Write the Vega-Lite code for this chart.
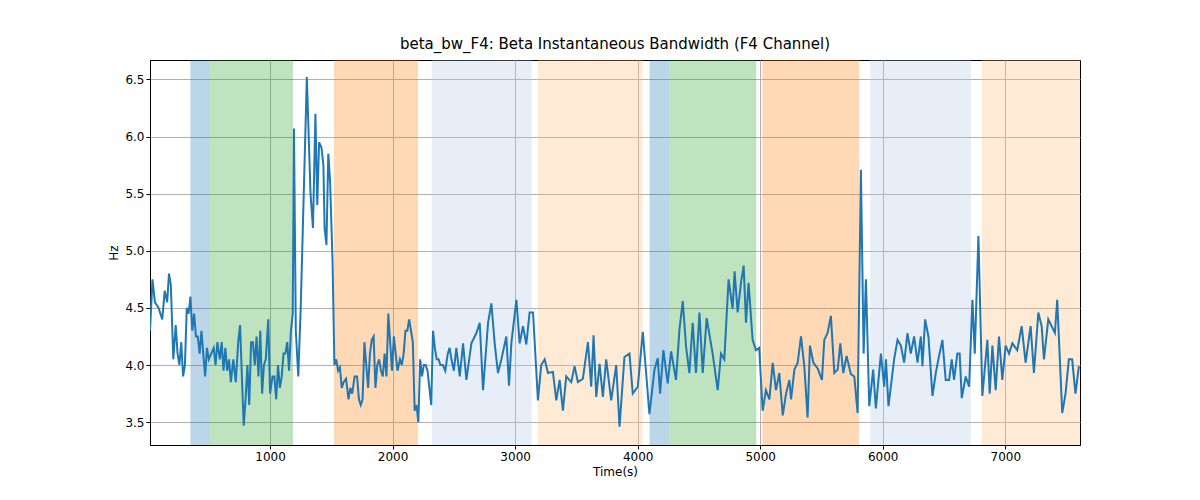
{
  "$schema": "https://vega.github.io/schema/vega-lite/v6.json",
  "width": 930,
  "height": 385,
  "autosize": {"type": "none"},
  "padding": {"left": 150, "top": 60, "right": 120, "bottom": 55},
  "background": "white",
  "config": {
    "font": "DejaVu Sans",
    "view": {"stroke": "black", "strokeWidth": 1},
    "axis": {"grid": true, "gridColor": "#b0b0b0", "gridWidth": 1, "zindex": 1, "domainColor": "black", "tickColor": "black", "labelColor": "black", "titleColor": "black", "labelFontSize": 12, "titleFontSize": 12, "titleFontWeight": "normal", "tickSize": 4}
  },
  "title": {"text": "beta_bw_F4: Beta Instantaneous Bandwidth (F4 Channel)", "fontSize": 15, "fontWeight": "normal", "offset": 8},
  "datasets": {
    "bands": [
      {"s": 350, "e": 510, "c": "#1f77b4"},
      {"s": 510, "e": 1187, "c": "#2ca02c"},
      {"s": 1522, "e": 2207, "c": "#ff7f0e"},
      {"s": 2320, "e": 3135, "c": "#aec7e8"},
      {"s": 3185, "e": 4040, "c": "#ffbb78"},
      {"s": 4097, "e": 4260, "c": "#1f77b4"},
      {"s": 4260, "e": 4968, "c": "#2ca02c"},
      {"s": 5017, "e": 5808, "c": "#ff7f0e"},
      {"s": 5898, "e": 6720, "c": "#aec7e8"},
      {"s": 6810, "e": 7620, "c": "#ffbb78"}
    ],
    "series": [
      {"t":20,"v":4.3},{"t":40,"v":4.75},{"t":60,"v":4.55},{"t":90,"v":4.5},{"t":120,"v":4.4},{"t":140,"v":4.65},{"t":160,"v":4.55},{"t":175,"v":4.8},{"t":190,"v":4.7},{"t":210,"v":4.05},{"t":230,"v":4.35},{"t":245,"v":4.1},{"t":260,"v":4.0},{"t":275,"v":4.2},{"t":290,"v":3.9},{"t":305,"v":4.0},{"t":320,"v":4.5},{"t":335,"v":4.45},{"t":350,"v":4.6},{"t":365,"v":4.3},{"t":380,"v":4.45},{"t":395,"v":4.25},{"t":410,"v":4.25},{"t":425,"v":4.1},{"t":440,"v":4.3},{"t":455,"v":4.1},{"t":470,"v":3.9},{"t":485,"v":4.15},{"t":500,"v":4.05},{"t":520,"v":4.1},{"t":540,"v":4.15},{"t":555,"v":4.0},{"t":570,"v":4.2},{"t":590,"v":4.05},{"t":605,"v":4.2},{"t":620,"v":3.95},{"t":635,"v":4.15},{"t":650,"v":3.95},{"t":665,"v":4.05},{"t":680,"v":3.85},{"t":700,"v":4.05},{"t":720,"v":3.85},{"t":740,"v":4.2},{"t":755,"v":4.35},{"t":770,"v":3.9},{"t":785,"v":3.47},{"t":800,"v":3.7},{"t":815,"v":4.0},{"t":830,"v":3.65},{"t":845,"v":4.2},{"t":860,"v":4.2},{"t":875,"v":4.0},{"t":890,"v":4.25},{"t":905,"v":3.9},{"t":920,"v":4.3},{"t":935,"v":3.75},{"t":950,"v":4.0},{"t":965,"v":4.05},{"t":985,"v":4.4},{"t":1000,"v":3.75},{"t":1020,"v":3.9},{"t":1035,"v":3.9},{"t":1050,"v":3.7},{"t":1065,"v":4.0},{"t":1080,"v":3.8},{"t":1095,"v":3.9},{"t":1110,"v":4.1},{"t":1125,"v":4.1},{"t":1140,"v":4.2},{"t":1155,"v":3.95},{"t":1170,"v":4.3},{"t":1185,"v":4.45},{"t":1195,"v":6.07},{"t":1210,"v":4.3},{"t":1230,"v":3.9},{"t":1250,"v":4.5},{"t":1300,"v":6.52},{"t":1330,"v":5.5},{"t":1350,"v":5.2},{"t":1370,"v":6.2},{"t":1385,"v":5.4},{"t":1400,"v":5.95},{"t":1420,"v":5.9},{"t":1435,"v":5.75},{"t":1445,"v":5.2},{"t":1460,"v":5.05},{"t":1475,"v":5.85},{"t":1490,"v":5.6},{"t":1510,"v":4.9},{"t":1525,"v":4.0},{"t":1540,"v":4.05},{"t":1555,"v":3.95},{"t":1570,"v":3.98},{"t":1585,"v":3.8},{"t":1600,"v":3.85},{"t":1620,"v":3.88},{"t":1640,"v":3.7},{"t":1655,"v":3.8},{"t":1670,"v":3.75},{"t":1690,"v":3.9},{"t":1710,"v":3.9},{"t":1725,"v":3.7},{"t":1740,"v":3.65},{"t":1755,"v":3.7},{"t":1770,"v":4.2},{"t":1785,"v":4.0},{"t":1800,"v":3.8},{"t":1815,"v":4.1},{"t":1830,"v":4.22},{"t":1845,"v":4.25},{"t":1860,"v":3.8},{"t":1875,"v":4.0},{"t":1890,"v":4.05},{"t":1905,"v":3.95},{"t":1920,"v":3.9},{"t":1935,"v":4.1},{"t":1950,"v":3.9},{"t":1965,"v":4.45},{"t":1980,"v":4.2},{"t":1995,"v":3.95},{"t":2010,"v":4.25},{"t":2025,"v":4.1},{"t":2040,"v":3.95},{"t":2060,"v":4.05},{"t":2075,"v":4.0},{"t":2090,"v":4.1},{"t":2105,"v":4.3},{"t":2120,"v":4.3},{"t":2135,"v":4.4},{"t":2150,"v":4.3},{"t":2165,"v":4.2},{"t":2180,"v":3.6},{"t":2195,"v":3.65},{"t":2210,"v":3.5},{"t":2225,"v":4.05},{"t":2240,"v":3.9},{"t":2255,"v":4.0},{"t":2270,"v":4.0},{"t":2285,"v":3.95},{"t":2300,"v":3.8},{"t":2315,"v":3.65},{"t":2330,"v":4.3},{"t":2345,"v":4.15},{"t":2360,"v":4.05},{"t":2375,"v":4.05},{"t":2390,"v":4.0},{"t":2410,"v":4.0},{"t":2430,"v":3.95},{"t":2450,"v":4.1},{"t":2465,"v":4.15},{"t":2480,"v":4.05},{"t":2500,"v":3.95},{"t":2520,"v":4.15},
      {"t":2548,"v":3.9},{"t":2575,"v":4.19},{"t":2602,"v":3.87},{"t":2643,"v":4.19},{"t":2684,"v":4.28},{"t":2711,"v":4.37},{"t":2738,"v":3.78},{"t":2779,"v":4.37},{"t":2806,"v":4.54},{"t":2833,"v":4.19},{"t":2860,"v":3.93},{"t":2888,"v":4.05},{"t":2928,"v":4.25},{"t":2950,"v":3.82},{"t":2969,"v":4.19},{"t":3010,"v":4.57},{"t":3037,"v":4.19},{"t":3064,"v":4.34},{"t":3091,"v":4.18},{"t":3118,"v":4.46},{"t":3146,"v":4.46},{"t":3186,"v":3.69},{"t":3213,"v":4.0},{"t":3241,"v":4.05},{"t":3268,"v":3.93},{"t":3308,"v":3.94},{"t":3336,"v":3.69},{"t":3363,"v":3.87},{"t":3390,"v":3.6},{"t":3417,"v":3.9},{"t":3458,"v":3.85},{"t":3485,"v":3.99},{"t":3512,"v":3.85},{"t":3553,"v":3.88},{"t":3594,"v":4.2},{"t":3621,"v":3.81},{"t":3640,"v":4.26},{"t":3662,"v":3.72},{"t":3689,"v":4.01},{"t":3716,"v":3.72},{"t":3743,"v":4.05},{"t":3784,"v":3.69},{"t":3825,"v":4.0},{"t":3852,"v":3.46},{"t":3892,"v":4.07},{"t":3933,"v":4.1},{"t":3960,"v":3.75},{"t":4001,"v":3.81},{"t":4042,"v":4.29},{"t":4069,"v":3.93},{"t":4096,"v":3.57},{"t":4137,"v":3.96},{"t":4164,"v":4.06},{"t":4183,"v":3.75},{"t":4210,"v":4.13},{"t":4245,"v":3.84},{"t":4273,"v":4.12},{"t":4313,"v":3.87},{"t":4341,"v":4.31},{"t":4368,"v":4.56},{"t":4395,"v":4.16},{"t":4422,"v":3.93},{"t":4449,"v":4.37},{"t":4476,"v":3.93},{"t":4504,"v":4.46},{"t":4531,"v":3.93},{"t":4563,"v":4.41},{"t":4612,"v":4.1},{"t":4653,"v":3.78},{"t":4680,"v":4.1},{"t":4707,"v":4.05},{"t":4742,"v":4.75},{"t":4775,"v":4.49},{"t":4791,"v":4.82},{"t":4816,"v":4.46},{"t":4843,"v":4.72},{"t":4865,"v":4.87},{"t":4884,"v":4.37},{"t":4905,"v":4.72},{"t":4938,"v":4.22},{"t":4965,"v":4.13},{"t":4992,"v":4.15},{"t":5020,"v":3.6},{"t":5047,"v":3.78},
      {"t":5075,"v":3.7},{"t":5102,"v":4.02},{"t":5129,"v":3.78},{"t":5156,"v":3.93},{"t":5184,"v":3.56},{"t":5211,"v":3.75},{"t":5238,"v":3.87},{"t":5252,"v":3.7},{"t":5279,"v":3.96},{"t":5306,"v":4.02},{"t":5333,"v":4.25},{"t":5360,"v":3.99},{"t":5387,"v":3.54},{"t":5406,"v":4.17},{"t":5434,"v":4.02},{"t":5469,"v":3.97},{"t":5504,"v":3.87},{"t":5523,"v":4.22},{"t":5550,"v":4.28},{"t":5577,"v":4.43},{"t":5605,"v":3.93},{"t":5632,"v":3.96},{"t":5654,"v":4.19},{"t":5678,"v":3.93},{"t":5705,"v":4.08},{"t":5740,"v":3.92},{"t":5768,"v":3.9},{"t":5795,"v":3.58},{"t":5822,"v":5.71},{"t":5844,"v":4.1},{"t":5863,"v":4.75},{"t":5890,"v":3.64},{"t":5922,"v":3.96},{"t":5944,"v":3.62},{"t":5985,"v":4.1},{"t":6012,"v":3.81},{"t":6026,"v":4.05},{"t":6047,"v":3.64},{"t":6093,"v":4.05},{"t":6121,"v":4.22},{"t":6148,"v":4.17},{"t":6175,"v":4.02},{"t":6202,"v":4.28},{"t":6229,"v":4.1},{"t":6256,"v":4.25},{"t":6284,"v":4.02},{"t":6311,"v":4.25},{"t":6324,"v":3.99},{"t":6346,"v":4.4},{"t":6373,"v":4.25},{"t":6406,"v":3.73},{"t":6433,"v":3.93},{"t":6460,"v":4.08},{"t":6487,"v":4.22},{"t":6514,"v":3.87},{"t":6542,"v":3.87},{"t":6563,"v":4.05},{"t":6582,"v":3.87},{"t":6609,"v":4.1},{"t":6628,"v":4.1},{"t":6645,"v":3.71},{"t":6677,"v":3.9},{"t":6705,"v":3.81},{"t":6732,"v":4.57},{"t":6751,"v":4.1},{"t":6781,"v":5.13},{"t":6813,"v":3.73},{"t":6854,"v":4.22},{"t":6873,"v":3.75},{"t":6895,"v":4.17},{"t":6922,"v":3.78},{"t":6949,"v":4.25},{"t":6976,"v":3.87},{"t":7003,"v":4.17},{"t":7031,"v":4.1},{"t":7058,"v":4.19},{"t":7098,"v":4.13},{"t":7134,"v":4.34},{"t":7166,"v":4.02},{"t":7207,"v":4.34},{"t":7234,"v":3.93},{"t":7270,"v":4.46},{"t":7297,"v":4.34},{"t":7316,"v":4.05},{"t":7351,"v":4.4},{"t":7378,"v":4.34},{"t":7405,"v":4.28},{"t":7424,"v":4.57},{"t":7465,"v":3.58},{"t":7492,"v":3.75},{"t":7519,"v":4.05},{"t":7546,"v":4.05},{"t":7573,"v":3.75},{"t":7601,"v":3.99}
    ]
  },
  "layer": [
    {
      "data": {"name": "bands"},
      "mark": {"type": "rect", "opacity": 0.3, "clip": true},
      "encoding": {
        "x": {"field": "s", "type": "quantitative"},
        "x2": {"field": "e"},
        "color": {"field": "c", "type": "nominal", "scale": null}
      }
    },
    {
      "data": {"name": "series"},
      "mark": {"type": "line", "color": "#1f77b4", "strokeWidth": 2, "clip": true},
      "encoding": {
        "x": {"field": "t", "type": "quantitative", "title": "Time(s)", "scale": {"domain": [20, 7610], "nice": false, "zero": false}, "axis": {"values": [1000, 2000, 3000, 4000, 5000, 6000, 7000], "format": "d"}},
        "y": {"field": "v", "type": "quantitative", "title": "Hz", "scale": {"domain": [3.3, 6.67], "nice": false, "zero": false}, "axis": {"values": [3.5, 4.0, 4.5, 5.0, 5.5, 6.0, 6.5], "format": ".1f"}}
      }
    }
  ]
}
